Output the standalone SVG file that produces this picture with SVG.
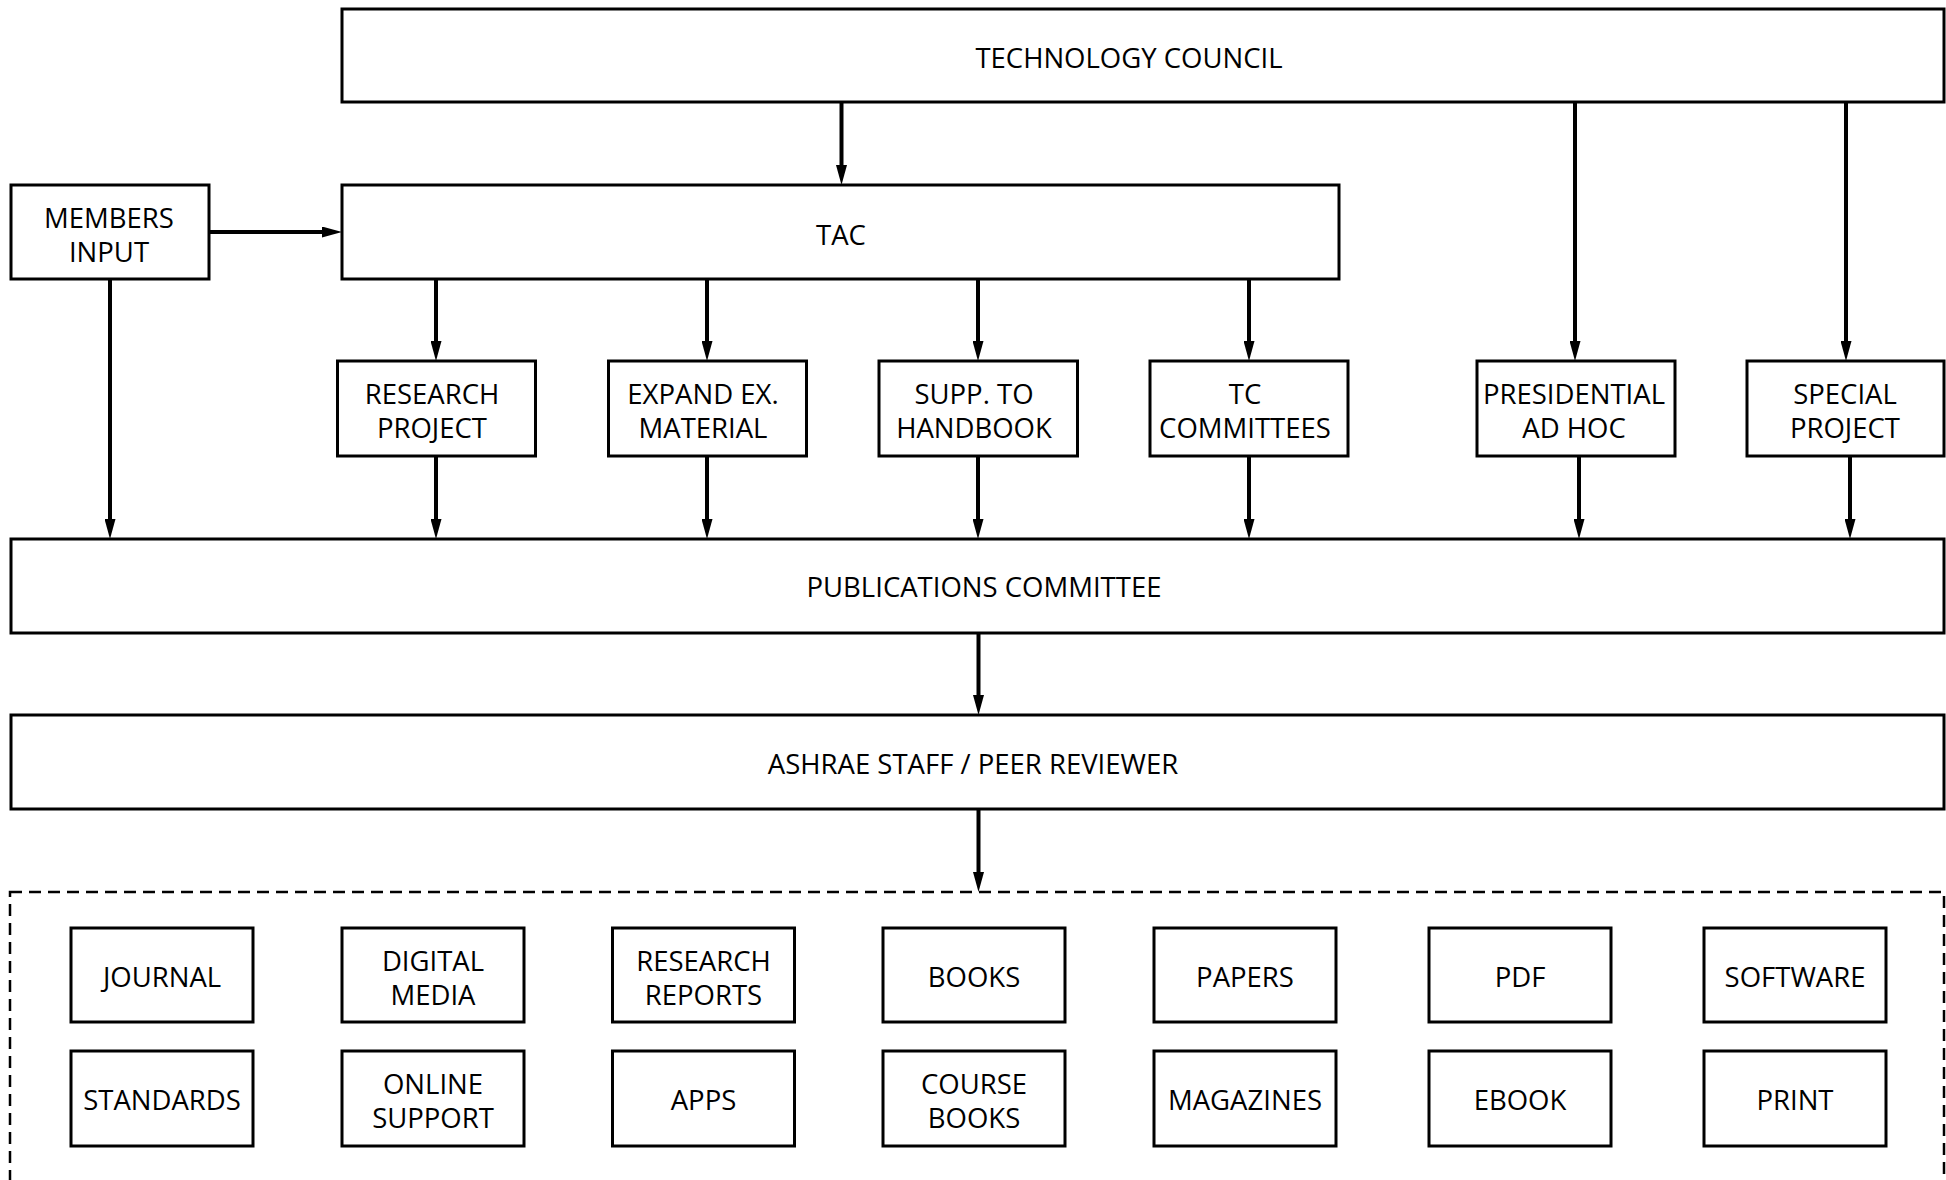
<svg xmlns="http://www.w3.org/2000/svg" width="1946" height="1180" viewBox="0 0 1946 1180">
<style>
.box{fill:#fff;stroke:#000;stroke-width:3}
.dash{fill:none;stroke:#000;stroke-width:2.5;stroke-dasharray:12 7}
.lbl{font-family:"Open Sans","Noto Sans",sans-serif;font-size:27.5px;fill:#000;text-anchor:middle}
.con line{stroke:#000;stroke-width:4;marker-end:url(#ah)}
</style>
<defs>
<marker id="ah" markerUnits="userSpaceOnUse" markerWidth="20" markerHeight="11" refX="1" refY="5.5" orient="auto">
<path d="M0,0 L20,5.5 L0,11 z" fill="#000"/>
</marker>
</defs>
<rect width="1946" height="1180" fill="#fff"/>

<g id="tech-council"><rect class="box" x="342" y="9" width="1602" height="93"/><text class="lbl" x="1129" y="68">TECHNOLOGY COUNCIL</text></g>
<g id="members-input"><rect class="box" x="11" y="185" width="198" height="94"/><text class="lbl" x="109" y="228">MEMBERS</text><text class="lbl" x="109" y="262">INPUT</text></g>
<g id="tac"><rect class="box" x="342" y="185" width="997" height="94"/><text class="lbl" x="841" y="245">TAC</text></g>

<g id="research-project"><rect class="box" x="337.5" y="361" width="198" height="95"/><text class="lbl" x="432" y="404">RESEARCH</text><text class="lbl" x="432" y="438">PROJECT</text></g>
<g id="expand-ex-material"><rect class="box" x="608.5" y="361" width="198" height="95"/><text class="lbl" x="703" y="404">EXPAND EX.</text><text class="lbl" x="703" y="438">MATERIAL</text></g>
<g id="supp-to-handbook"><rect class="box" x="879" y="361" width="198.5" height="95"/><text class="lbl" x="974" y="404">SUPP. TO</text><text class="lbl" x="974" y="438">HANDBOOK</text></g>
<g id="tc-committees"><rect class="box" x="1150" y="361" width="198" height="95"/><text class="lbl" x="1245" y="404">TC</text><text class="lbl" x="1245" y="438">COMMITTEES</text></g>
<g id="presidential-ad-hoc"><rect class="box" x="1477" y="361" width="198" height="95"/><text class="lbl" x="1574" y="404">PRESIDENTIAL</text><text class="lbl" x="1574" y="438">AD HOC</text></g>
<g id="special-project"><rect class="box" x="1747" y="361" width="197" height="95"/><text class="lbl" x="1845" y="404">SPECIAL</text><text class="lbl" x="1845" y="438">PROJECT</text></g>

<g id="publications-committee"><rect class="box" x="11" y="539" width="1933" height="94"/><text class="lbl" x="984" y="597">PUBLICATIONS COMMITTEE</text></g>
<g id="ashrae-staff"><rect class="box" x="11" y="715" width="1933" height="94"/><text class="lbl" x="973" y="774">ASHRAE STAFF / PEER REVIEWER</text></g>

<g id="outputs">
<rect class="dash" x="10" y="892" width="1934" height="320"/>
<g id="journal"><rect class="box" x="71" y="928" width="182" height="94"/><text class="lbl" x="162" y="987">JOURNAL</text></g>
<g id="digital-media"><rect class="box" x="342" y="928" width="182" height="94"/><text class="lbl" x="433" y="971">DIGITAL</text><text class="lbl" x="433" y="1005">MEDIA</text></g>
<g id="research-reports"><rect class="box" x="612.5" y="928" width="182" height="94"/><text class="lbl" x="703.5" y="971">RESEARCH</text><text class="lbl" x="703.5" y="1005">REPORTS</text></g>
<g id="books"><rect class="box" x="883" y="928" width="182" height="94"/><text class="lbl" x="974" y="987">BOOKS</text></g>
<g id="papers"><rect class="box" x="1154" y="928" width="182" height="94"/><text class="lbl" x="1245" y="987">PAPERS</text></g>
<g id="pdf"><rect class="box" x="1429" y="928" width="182" height="94"/><text class="lbl" x="1520" y="987">PDF</text></g>
<g id="software"><rect class="box" x="1704" y="928" width="182" height="94"/><text class="lbl" x="1795" y="987">SOFTWARE</text></g>
<g id="standards"><rect class="box" x="71" y="1051" width="182" height="95"/><text class="lbl" x="162" y="1110">STANDARDS</text></g>
<g id="online-support"><rect class="box" x="342" y="1051" width="182" height="95"/><text class="lbl" x="433" y="1094">ONLINE</text><text class="lbl" x="433" y="1128">SUPPORT</text></g>
<g id="apps"><rect class="box" x="612.5" y="1051" width="182" height="95"/><text class="lbl" x="703.5" y="1110">APPS</text></g>
<g id="course-books"><rect class="box" x="883" y="1051" width="182" height="95"/><text class="lbl" x="974" y="1094">COURSE</text><text class="lbl" x="974" y="1128">BOOKS</text></g>
<g id="magazines"><rect class="box" x="1154" y="1051" width="182" height="95"/><text class="lbl" x="1245" y="1110">MAGAZINES</text></g>
<g id="ebook"><rect class="box" x="1429" y="1051" width="182" height="95"/><text class="lbl" x="1520" y="1110">EBOOK</text></g>
<g id="print"><rect class="box" x="1704" y="1051" width="182" height="95"/><text class="lbl" x="1795" y="1110">PRINT</text></g>
</g>

<g id="connectors" class="con">
<line x1="841.5" y1="102" x2="841.5" y2="166"/>
<line x1="1575" y1="102" x2="1575" y2="342"/>
<line x1="1846" y1="102" x2="1846" y2="342"/>
<line x1="209" y1="232" x2="323" y2="232"/>
<line x1="110" y1="279" x2="110" y2="520"/>
<line x1="436" y1="279" x2="436" y2="342"/>
<line x1="707" y1="279" x2="707" y2="342"/>
<line x1="978" y1="279" x2="978" y2="342"/>
<line x1="1249" y1="279" x2="1249" y2="342"/>
<line x1="436" y1="456" x2="436" y2="520"/>
<line x1="707" y1="456" x2="707" y2="520"/>
<line x1="978" y1="456" x2="978" y2="520"/>
<line x1="1249" y1="456" x2="1249" y2="520"/>
<line x1="1579" y1="456" x2="1579" y2="520"/>
<line x1="1850" y1="456" x2="1850" y2="520"/>
<line x1="978.5" y1="633" x2="978.5" y2="696"/>
<line x1="978.5" y1="809" x2="978.5" y2="873"/>
</g>
</svg>
